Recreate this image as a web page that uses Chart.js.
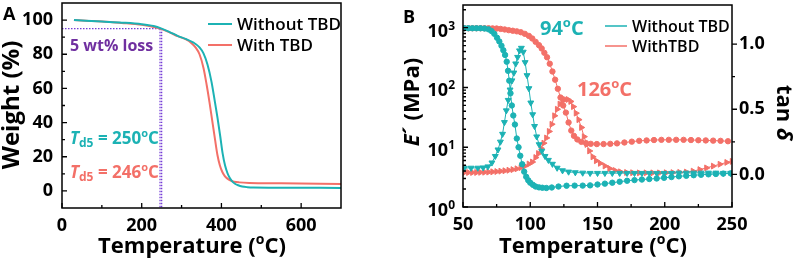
<!DOCTYPE html>
<html>
<head>
<meta charset="utf-8">
<title>TGA and DMA</title>
<script src="https://cdn.jsdelivr.net/npm/chart.js@4.4.1/dist/chart.umd.min.js"></script>
<style>
  html, body { margin: 0; padding: 0; background: #fff; }
  .panel { position: absolute; top: 0; width: 398px; height: 261px; }
</style>
</head>
<body>
<div class="panel" style="left:0"><canvas id="tga"></canvas></div>
<div class="panel" style="left:398px"><canvas id="dma"></canvas></div>
<script>
// ---- panel A: TGA ----
var tgaTempWithout = [30, 60, 100, 150, 200, 230, 250, 270, 290, 310, 330, 345, 355, 365, 375, 383, 390, 397, 403, 409, 415, 421, 427, 434, 442, 452, 465, 480, 550, 700];
var tgaWeightWithout = [100, 99.6, 99.1, 98.5, 97.6, 96.5, 95.0, 93.0, 90.8, 89.0, 86.8, 84.0, 80.5, 74, 64, 53, 43, 32, 22, 15, 10.5, 7.5, 5.6, 4.2, 3.3, 2.6, 2.2, 2.0, 1.9, 1.75];
var tgaTempWith = [30, 60, 100, 150, 200, 230, 246, 270, 290, 310, 325, 335, 345, 355, 363, 370, 377, 384, 390, 396, 402, 408, 415, 423, 432, 445, 470, 550, 700];
var tgaWeightWith = [100, 99.6, 99.2, 98.3, 97.2, 96.0, 95.0, 92.8, 90.6, 88.8, 86.5, 84, 80, 72, 62, 52, 41, 30, 21, 15, 11.2, 8.8, 7.2, 6.1, 5.4, 5.0, 4.7, 4.5, 4.1];
var td5Temps = [250, 246];
var lossLevel = 95;
var tgaXTicks = [0, 200, 400, 600];
var tgaXMinor = [100, 300, 500];
var tgaYTicks = [0, 20, 40, 60, 80, 100];
var tgaYMinor = [10, 30, 50, 70, 90];

// ---- panel B: DMA ----
var modTempWithout = [51, 54, 57, 60, 63, 66, 69, 71.2, 73.3, 75.3, 77, 78.6, 80, 81.3, 82.5, 83.5, 84.4, 85.3, 86.3, 87.4, 88.6, 90, 91.3, 92.6, 94, 95.5, 97, 98.5, 100, 102, 104, 106.5, 109, 112, 116, 121, 127, 133, 139, 144.5, 150, 155.5, 161, 166.5, 172, 177.5, 183, 188.5, 194, 199.5, 205, 210.5, 216, 221.5, 227, 232.5, 238, 243.5, 249];
var modWithout = [980, 980, 980, 980, 980, 970, 940, 880, 790, 680, 590, 500, 420, 350, 270, 190, 130, 80, 50, 34, 24, 14, 10, 7.2, 5.2, 3.9, 3.2, 2.8, 2.55, 2.35, 2.2, 2.13, 2.1, 2.08, 2.12, 2.2, 2.27, 2.28, 2.28, 2.3, 2.38, 2.46, 2.55, 2.65, 2.75, 2.82, 2.88, 2.94, 3.0, 3.08, 3.17, 3.26, 3.33, 3.4, 3.46, 3.52, 3.57, 3.62, 3.66];
var tanTempWithout = [51, 56, 61, 65, 68.5, 71.5, 74, 76, 77.8, 79.4, 80.8, 82.2, 83.6, 85, 86.4, 87.8, 89.2, 90.6, 92, 93.4, 94.8, 96.2, 97.6, 99, 100.4, 101.8, 103.2, 104.8, 106.6, 108.6, 111, 113.5, 116.5, 120, 124, 128.5, 133.5, 139, 144.5, 150, 155.5, 161, 166.5, 172, 177.5, 183, 188.5, 194, 199.5, 205, 210.5, 216, 221.5, 227, 232.5, 238, 243.5, 249];
var tanWithout = [0.05, 0.05, 0.05, 0.052, 0.06, 0.09, 0.14, 0.19, 0.25, 0.31, 0.40, 0.49, 0.57, 0.65, 0.72, 0.78, 0.85, 0.90, 0.95, 0.97, 0.94, 0.86, 0.76, 0.66, 0.55, 0.46, 0.37, 0.29, 0.23, 0.18, 0.14, 0.11, 0.08, 0.05, 0.03, 0.02, 0.015, 0.012, 0.01, 0.01, 0.01, 0.01, 0.01, 0.01, 0.01, 0.01, 0.01, 0.01, 0.01, 0.01, 0.012, 0.012, 0.012, 0.012, 0.012, 0.012, 0.01, 0.01];
var modTempWith = [51, 54, 57, 60, 63, 66, 69, 72, 75, 78, 81, 84, 87, 90, 93, 96, 99, 101.5, 104, 106.5, 108.5, 110.5, 112.5, 114.5, 116.5, 118.5, 120.5, 122.5, 124.5, 126.5, 128.5, 130.5, 132.5, 135, 138, 141.5, 145, 149.5, 154.5, 159.5, 164.5, 170, 175.5, 181, 186.5, 192, 197.5, 203, 208.5, 214, 219.5, 225, 230.5, 236, 241.5, 247];
var modWith = [980, 980, 980, 980, 980, 980, 980, 975, 970, 955, 935, 910, 890, 870, 840, 790, 730, 660, 580, 510, 450, 380, 320, 250, 185, 135, 95, 68, 50, 38, 26, 19, 15.5, 13.5, 12.3, 11.7, 11.4, 11.3, 11.3, 11.4, 11.6, 12, 12.4, 12.8, 13.0, 13.2, 13.3, 13.3, 13.3, 13.3, 13.2, 13.1, 13.0, 12.9, 12.8, 12.6];
var tanTempWith = [51, 54, 57, 60, 63, 66, 69, 72, 75, 78, 81, 84, 87, 90, 93, 96, 99, 101.5, 104, 106, 108, 110, 112, 114, 116, 118, 120, 122, 124, 126, 128, 130, 132, 134, 136, 138, 140, 142, 144, 146.5, 149, 152, 155.5, 159, 163, 167, 171.5, 176, 181, 186, 191, 196, 201, 206, 211, 216, 221, 226, 231, 236, 241, 246, 250];
var tanWith = [0.015, 0.015, 0.015, 0.015, 0.016, 0.017, 0.018, 0.02, 0.022, 0.025, 0.028, 0.032, 0.037, 0.043, 0.052, 0.064, 0.08, 0.095, 0.13, 0.16, 0.2, 0.24, 0.28, 0.33, 0.385, 0.45, 0.5, 0.54, 0.565, 0.575, 0.575, 0.56, 0.52, 0.47, 0.42, 0.36, 0.29, 0.23, 0.18, 0.135, 0.105, 0.085, 0.065, 0.045, 0.03, 0.02, 0.015, 0.013, 0.012, 0.012, 0.012, 0.012, 0.013, 0.014, 0.016, 0.018, 0.025, 0.037, 0.05, 0.064, 0.078, 0.092, 0.1];
var dmaXTicks = [50, 100, 150, 200, 250];
var dmaXMinor = [75, 125, 175, 225];
var modTicks = [1, 10, 100, 1000];
var modTickExp = ['0', '1', '2', '3'];
var tanTicks = [0, 0.5, 1.0];
var tanTickLabels = ['0.0', '0.5', '1.0'];
var tanMinor = [0.25, 0.75];
var peakWithout = '94';
var peakWith = '126';

var TEAL = 'rgb(28,178,180)';
var SALMON = 'rgb(243,112,104)';
var PURPLE = 'rgb(112,48,160)';
var DOTLINE = 'rgb(118,62,214)';
var FONT = '"Open Sans", "DejaVu Sans", sans-serif';

Chart.defaults.font.family = FONT;
Chart.defaults.color = '#000';

function pts(xs, ys) {
  return xs.map(function(v, i) { return {x: v, y: ys[i]}; });
}

function fontStr(size, style, weight) {
  return (style || 'normal') + ' ' + (weight || 'bold') + ' ' + size + 'px ' + FONT;
}

// parts: [text, size, style, raise]
function drawRich(ctx, parts, x, y, align, weight) {
  var total = 0;
  parts.forEach(function(p) { ctx.font = fontStr(p[1], p[2], weight); total += ctx.measureText(p[0]).width; });
  var cx = align === 'center' ? x - total / 2 : (align === 'right' ? x - total : x);
  ctx.textAlign = 'left';
  ctx.textBaseline = 'alphabetic';
  parts.forEach(function(p) {
    ctx.font = fontStr(p[1], p[2], weight);
    ctx.fillText(p[0], cx, y - (p[3] || 0));
    cx += ctx.measureText(p[0]).width;
  });
}

function drawFrame(chart) {
  var a = chart.chartArea, ctx = chart.ctx;
  ctx.save();
  ctx.strokeStyle = '#000';
  ctx.lineWidth = 1.5;
  ctx.strokeRect(a.left, a.top, a.right - a.left, a.bottom - a.top);
  ctx.restore();
}

// bottom and left ticks point inward, right ticks point outward
function drawTicks(chart, scale, values, len, side) {
  var ctx = chart.ctx, a = chart.chartArea;
  ctx.save();
  ctx.strokeStyle = '#000';
  ctx.lineWidth = 1.3;
  ctx.beginPath();
  values.forEach(function(v) {
    var p = scale.getPixelForValue(v);
    if (side === 'bottom') { ctx.moveTo(p, a.bottom); ctx.lineTo(p, a.bottom - len); }
    else if (side === 'left') { ctx.moveTo(a.left, p); ctx.lineTo(a.left + len, p); }
    else { ctx.moveTo(a.right, p); ctx.lineTo(a.right + len, p); }
  });
  ctx.stroke();
  ctx.restore();
}

function drawLegend(ctx, rows, x, y0, rowH, lineLen, lw, size) {
  rows.forEach(function(r, i) {
    var y = y0 + i * rowH;
    ctx.save();
    ctx.strokeStyle = r.color;
    ctx.lineWidth = lw;
    ctx.beginPath();
    ctx.moveTo(x, y);
    ctx.lineTo(x + lineLen, y);
    ctx.stroke();
    ctx.fillStyle = '#000';
    drawRich(ctx, [[r.label, size]], x + lineLen + 5, y + 6, 'left', '600');
    ctx.restore();
  });
}

function xTitle(ctx, cx, y) {
  ctx.fillStyle = '#000';
  drawRich(ctx, [['Temperature (', 22], ['o', 14, '', 9], ['C)', 22]], cx, y, 'center');
}

function forceTicks(values) {
  return function(scale) { scale.ticks = values.map(function(v) { return {value: v}; }); };
}

// fixed axis box, no extra room for edge labels
function fixSize(w, h) {
  return function(s) {
    if (w) s.width = w;
    if (h) s.height = h;
    s.paddingTop = 0; s.paddingBottom = 0; s.paddingLeft = 0; s.paddingRight = 0;
  };
}

var noGrid = { display: false, drawTicks: false, tickLength: 0 };

// ---------- chart A ----------
var tgaDecor = {
  id: 'tgaDecor',
  beforeDatasetsDraw: function(chart) {
    var ctx = chart.ctx, x = chart.scales.x, y = chart.scales.y;
    var yl = y.getPixelForValue(lossLevel);
    ctx.save();
    ctx.strokeStyle = DOTLINE;
    ctx.lineWidth = 1.3;
    ctx.setLineDash([1.5, 1.5]);
    ctx.beginPath();
    ctx.moveTo(x.left, yl);
    ctx.lineTo(x.getPixelForValue(Math.max.apply(null, td5Temps)), yl);
    td5Temps.forEach(function(t) {
      var px = x.getPixelForValue(t);
      ctx.moveTo(px, yl);
      ctx.lineTo(px, y.bottom);
    });
    ctx.stroke();
    ctx.restore();
  },
  afterDraw: function(chart) {
    var ctx = chart.ctx, x = chart.scales.x, y = chart.scales.y;
    drawFrame(chart);
    drawTicks(chart, x, tgaXTicks, 5, 'bottom');
    drawTicks(chart, x, tgaXMinor, 3, 'bottom');
    drawTicks(chart, y, tgaYTicks, 5, 'left');
    drawTicks(chart, y, tgaYMinor, 3, 'left');

    ctx.save();
    xTitle(ctx, 192, 253);
    ctx.translate(19, 105);
    ctx.rotate(-Math.PI / 2);
    drawRich(ctx, [['Weight (%)', 24]], 0, 0, 'center');
    ctx.restore();

    ctx.save();
    drawLegend(ctx, [{label: 'Without TBD', color: TEAL}, {label: 'With TBD', color: SALMON}], 208, 24, 21, 24, 2, 17);

    ctx.fillStyle = PURPLE;
    drawRich(ctx, [['5 wt% loss', 16]], 70, 51, 'left');
    ctx.fillStyle = TEAL;
    drawRich(ctx, [['T', 17, 'italic'], ['d5', 12, '', -3], [' = ' + td5Temps[0], 17], ['o', 11, '', 7], ['C', 17]], 70, 144, 'left');
    ctx.fillStyle = SALMON;
    drawRich(ctx, [['T', 17, 'italic'], ['d5', 12, '', -3], [' = ' + td5Temps[1], 17], ['o', 11, '', 7], ['C', 17]], 70, 178, 'left');

    ctx.fillStyle = '#000';
    drawRich(ctx, [['A', 18]], 3, 20, 'left');
    ctx.restore();
  }
};

new Chart(document.getElementById('tga'), {
  type: 'line',
  data: {
    datasets: [
      { label: 'Without TBD', data: pts(tgaTempWithout, tgaWeightWithout), borderColor: TEAL, borderWidth: 2, pointRadius: 0, cubicInterpolationMode: 'monotone' },
      { label: 'With TBD', data: pts(tgaTempWith, tgaWeightWith), borderColor: SALMON, borderWidth: 2, pointRadius: 0, cubicInterpolationMode: 'monotone' }
    ]
  },
  options: {
    responsive: true,
    maintainAspectRatio: false,
    animation: false,
    layout: { padding: { top: 3, right: 57, left: 0, bottom: 0 } },
    plugins: { legend: { display: false }, tooltip: { enabled: false } },
    scales: {
      x: {
        type: 'linear', min: 0, max: 700,
        grid: noGrid, border: { display: false },
        afterBuildTicks: forceTicks(tgaXTicks),
        afterFit: fixSize(0, 53),
        ticks: { autoSkip: false, maxRotation: 0, padding: 7, font: { size: 18, weight: 'bold' } }
      },
      y: {
        type: 'linear', min: -10, max: 110,
        grid: noGrid, border: { display: false },
        afterBuildTicks: forceTicks(tgaYTicks),
        afterFit: fixSize(62, 0),
        ticks: { autoSkip: false, padding: 9, font: { size: 18, weight: 'bold' } }
      }
    }
  },
  plugins: [tgaDecor]
});

// ---------- chart B ----------
var dmaDecor = {
  id: 'dmaDecor',
  afterDraw: function(chart) {
    var ctx = chart.ctx, x = chart.scales.x, y = chart.scales.y, y2 = chart.scales.y2;
    var minor = [];
    modTicks.forEach(function(d) { for (var k = 2; k <= 9; k++) { if (d * k <= y.max) minor.push(d * k); } });
    drawFrame(chart);
    drawTicks(chart, x, dmaXTicks, 5, 'bottom');
    drawTicks(chart, x, dmaXMinor, 3, 'bottom');
    drawTicks(chart, y, modTicks, 5, 'left');
    drawTicks(chart, y, minor, 3, 'left');
    drawTicks(chart, y2, tanTicks, 5, 'right');
    drawTicks(chart, y2, tanMinor, 3, 'right');

    ctx.save();
    ctx.fillStyle = '#000';
    modTicks.forEach(function(v, i) {
      var py = y.getPixelForValue(v);
      drawRich(ctx, [['10', 18], [modTickExp[i], 12, '', 7]], 57, py + 9, 'right');
    });
    xTitle(ctx, 195, 253);
    ctx.save();
    ctx.translate(21, 102);
    ctx.rotate(-Math.PI / 2);
    drawRich(ctx, [['E', 22, 'italic'], ['\u00b4 (MPa)', 22]], 0, 0, 'center');
    ctx.restore();
    ctx.save();
    ctx.translate(379, 113);
    ctx.rotate(Math.PI / 2);
    drawRich(ctx, [['tan ', 22], ['\u03b4', 22, 'italic']], 0, 0, 'center');
    ctx.restore();

    drawLegend(ctx, [{label: 'Without TBD', color: TEAL}, {label: 'WithTBD', color: SALMON}], 207, 26, 20, 22, 1.5, 16);

    ctx.fillStyle = TEAL;
    drawRich(ctx, [[peakWithout, 20], ['o', 13, '', 8], ['C', 20]], 142, 35, 'left');
    ctx.fillStyle = SALMON;
    drawRich(ctx, [[peakWith, 20], ['o', 13, '', 8], ['C', 20]], 179, 96, 'left');

    ctx.fillStyle = '#000';
    drawRich(ctx, [['B', 18]], 5, 23, 'left');
    ctx.restore();
  }
};

function dmaSet(label, xs, ys, color, axis, style, rot, r) {
  return {
    label: label, data: pts(xs, ys), yAxisID: axis,
    borderColor: color, backgroundColor: color, borderWidth: 1,
    pointStyle: style, pointRotation: rot, pointRadius: r, pointBorderWidth: 1,
    pointBackgroundColor: color, pointBorderColor: color, tension: 0
  };
}

new Chart(document.getElementById('dma'), {
  type: 'line',
  data: {
    datasets: [
      dmaSet('Without TBD', modTempWithout, modWithout, TEAL, 'y', 'circle', 0, 2.7),
      dmaSet('Without TBD', tanTempWithout, tanWithout, TEAL, 'y2', 'triangle', 180, 3.4),
      dmaSet('WithTBD', modTempWith, modWith, SALMON, 'y', 'circle', 0, 2.7),
      dmaSet('WithTBD', tanTempWith, tanWith, SALMON, 'y2', 'triangle', 90, 3.4)
    ]
  },
  options: {
    responsive: true,
    maintainAspectRatio: false,
    animation: false,
    layout: { padding: { top: 3, right: 0, left: 0, bottom: 0 } },
    plugins: { legend: { display: false }, tooltip: { enabled: false } },
    scales: {
      x: {
        type: 'linear', min: 50, max: 250,
        grid: noGrid, border: { display: false },
        afterBuildTicks: forceTicks(dmaXTicks),
        afterFit: fixSize(0, 54),
        ticks: { autoSkip: false, maxRotation: 0, padding: 7, font: { size: 18, weight: 'bold' } }
      },
      y: {
        type: 'logarithmic', position: 'left', min: 1, max: 2400,
        grid: noGrid, border: { display: false },
        afterBuildTicks: forceTicks(modTicks),
        afterFit: fixSize(65, 0),
        ticks: { display: false }
      },
      y2: {
        type: 'linear', position: 'right', min: -0.25, max: 1.3,
        grid: noGrid, border: { display: false },
        afterBuildTicks: forceTicks(tanTicks),
        afterFit: fixSize(64, 0),
        ticks: {
          autoSkip: false, padding: 7, font: { size: 18, weight: 'bold' },
          callback: function(v, i) { return tanTickLabels[i]; }
        }
      }
    }
  },
  plugins: [dmaDecor]
});
</script>
</body>
</html>
